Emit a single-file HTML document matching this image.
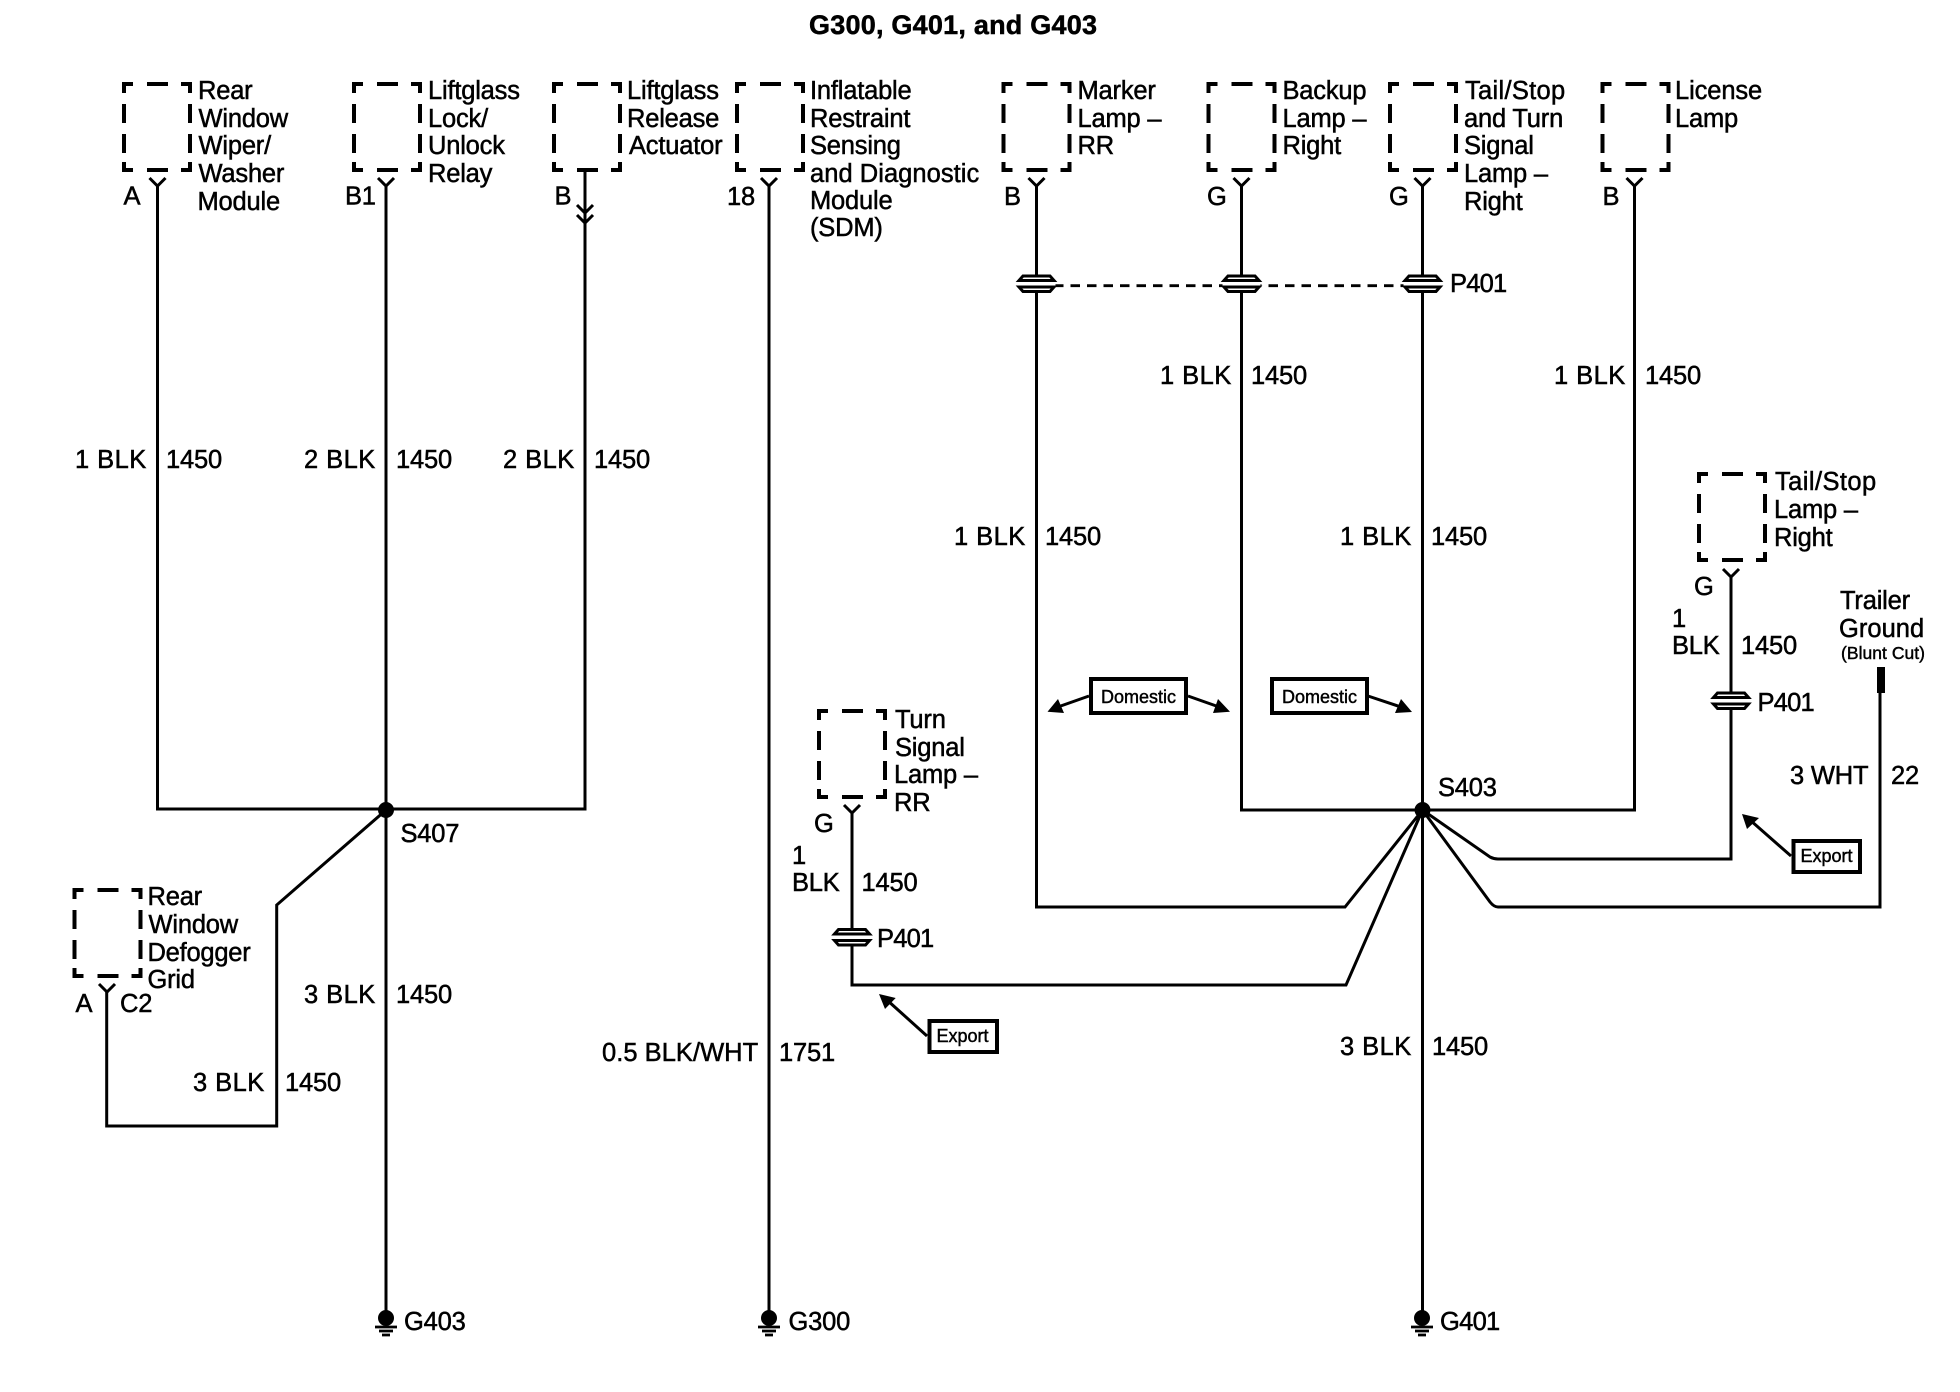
<!DOCTYPE html>
<html><head><meta charset="utf-8"><title>G300, G401, and G403</title>
<style>
html,body{margin:0;padding:0;background:#fff}
svg{display:block}
text{font-family:"Liberation Sans",sans-serif;font-size:25.5px;letter-spacing:-.2px;fill:#000;stroke:#000;stroke-width:.5px}
.e{text-anchor:end}
.s{font-size:18px;letter-spacing:0;stroke-width:.45px}
.w{fill:none;stroke:#000;stroke-width:3}
</style></head><body>
<svg width="1960" height="1392" viewBox="0 0 1960 1392" xmlns="http://www.w3.org/2000/svg">
<defs>
<g id="box" fill="none" stroke="#000" stroke-width="4">
<path d="M2 11V2H11M25 2H46M59 2H68V11M2 22V41M2 52V71M68 22V41M68 52V71M2 80V88H11M25 88H46M59 88H68V80"/>
</g>
<path id="y" d="M-8 0L0 8L8 0" fill="none" stroke="#000" stroke-width="3"/>
<g id="c" fill="#fff" stroke="#000" stroke-width="3">
<rect x="-19" y="-3.5" width="38" height="7" fill="#fff" stroke="none"/>
<path d="M-17.5 -3L-13.5 -7.5H13.5L17.5 -3Z"/>
<path d="M-17.5 3.5L-13.5 8H13.5L17.5 3.5Z"/>
</g>
<g id="g">
<circle cx="0" cy="0" r="8"/>
<path d="M-11 9H11M-7 13H7M-4 17H4" stroke="#000" stroke-width="2.8" fill="none"/>
</g>
</defs>

<text x="809" y="34" textLength="288" style="font-weight:bold;font-size:27px;letter-spacing:0">G300, G401, and G403</text>

<!-- boxes -->
<use href="#box" x="122" y="82"/><use href="#box" x="352" y="82"/><use href="#box" x="552" y="82"/><use href="#box" x="735" y="82"/>
<use href="#box" x="1001.5" y="82"/><use href="#box" x="1206.5" y="82"/><use href="#box" x="1388" y="82"/><use href="#box" x="1600.5" y="82"/>
<use href="#box" x="1697" y="472"/><use href="#box" x="817" y="709"/><use href="#box" x="72.5" y="888"/>

<!-- Y connectors -->
<use href="#y" x="157.5" y="178"/><use href="#y" x="386" y="178"/><use href="#y" x="769" y="178"/>
<use href="#y" x="1036.5" y="178"/><use href="#y" x="1241.5" y="178"/><use href="#y" x="1422.5" y="178"/><use href="#y" x="1634.5" y="178"/>
<use href="#y" x="1731" y="569"/><use href="#y" x="852" y="805"/><use href="#y" x="107" y="984"/>
<path class="w" d="M577 205L585 213L593 205M577 215L585 223L593 215"/>

<!-- wires -->
<path class="w" d="M157.5 186V809H585V172M386 186V1312M769 186V1312M386 810L276.7 905V1126H106.7V992"/>
<path class="w" d="M1036.5 186V907H1345L1422.5 810M1241.5 186V810H1634.5V186M1422.5 186V1312M852 813V985H1346L1422.5 810M1422.5 810L1490 857Q1494 859 1498 859H1731V577M1422.5 810L1490 902Q1494 907 1498 907H1880V690"/>
<rect x="1877" y="667" width="8" height="26"/>
<path d="M1054 285.7H1404" stroke="#000" stroke-width="2.8" stroke-dasharray="9.5 7" fill="none"/>

<circle cx="386" cy="810" r="8"/><circle cx="1422.5" cy="810" r="8"/>

<!-- inline connectors -->
<use href="#c" x="1036.5" y="283.5"/><use href="#c" x="1241.5" y="283.5"/><use href="#c" x="1422.5" y="283.5"/>
<use href="#c" x="1731" y="700.5"/><use href="#c" x="852" y="937"/>

<!-- grounds -->
<use href="#g" x="386" y="1318"/><use href="#g" x="769" y="1318"/><use href="#g" x="1422" y="1318"/>

<!-- domestic/export callouts -->
<rect x="1091" y="679" width="95" height="34" fill="#fff" stroke="#000" stroke-width="4"/>
<rect x="1272" y="679" width="95" height="34" fill="#fff" stroke="#000" stroke-width="4"/>
<path class="w" d="M1089 696L1055 708M1188 696L1222 708M1368 696L1404 708"/>
<path d="M1047.5 711.7L1058 699L1064 713ZM1230 711.7L1218 699L1213 713ZM1412 712L1401 699L1395 713Z"/>
<text class="s" x="1101" y="703" textLength="75">Domestic</text>
<text class="s" x="1282" y="703" textLength="75">Domestic</text>
<rect x="1793.5" y="841" width="66.5" height="31" fill="#fff" stroke="#000" stroke-width="4"/>
<rect x="929.5" y="1021" width="67.5" height="31" fill="#fff" stroke="#000" stroke-width="4"/>
<path class="w" d="M1791 856L1750 820M927 1036L887 1000"/>
<path d="M1742 814L1759 818L1747 829ZM879 994L895.7 998L885 1009Z"/>
<text class="s" x="1800.5" y="862" textLength="52">Export</text>
<text class="s" x="936.5" y="1042" textLength="52">Export</text>

<!-- top labels -->
<text x="198" y="99">Rear</text><text x="198.5" y="127">Window</text><text x="198.5" y="154">Wiper/</text><text x="198.5" y="182">Washer</text><text x="197.5" y="210">Module</text>
<text x="428" y="99">Liftglass</text><text x="428" y="127">Lock/</text><text x="428" y="154">Unlock</text><text x="428" y="182">Relay</text>
<text x="627" y="99">Liftglass</text><text x="627" y="127">Release</text><text x="629" y="154">Actuator</text>
<text x="810" y="99">Inflatable</text><text x="810" y="127">Restraint</text><text x="810" y="154">Sensing</text><text x="810" y="182" textLength="169">and Diagnostic</text><text x="810" y="209">Module</text><text x="810" y="236">(SDM)</text>
<text x="1077.5" y="99">Marker</text><text x="1077.5" y="127">Lamp –</text><text x="1077.5" y="154">RR</text>
<text x="1282.5" y="99">Backup</text><text x="1282.5" y="127">Lamp –</text><text x="1282.5" y="154">Right</text>
<text x="1465" y="99" textLength="100">Tail/Stop</text><text x="1464" y="127">and Turn</text><text x="1464" y="154">Signal</text><text x="1464" y="182">Lamp –</text><text x="1464" y="210">Right</text>
<text x="1675" y="99" textLength="87">License</text><text x="1675" y="127">Lamp</text>

<!-- connector letters -->
<text x="123.5" y="204.5">A</text><text x="345" y="204.5">B1</text><text x="554.5" y="204.5">B</text><text x="727" y="205">18</text>
<text x="1004" y="205">B</text><text x="1207" y="205">G</text><text x="1389" y="205">G</text><text x="1602.5" y="205">B</text>
<text x="75.5" y="1012">A</text><text x="120" y="1012">C2</text>
<text x="1694" y="595">G</text><text x="814" y="832">G</text>

<!-- wire labels -->
<g style="">
<text class="e" x="146" y="468" textLength="71">1 BLK</text><text x="166" y="468">1450</text>
<text class="e" x="375" y="468" textLength="71">2 BLK</text><text x="396" y="468">1450</text>
<text class="e" x="574" y="468" textLength="71">2 BLK</text><text x="594" y="468">1450</text>
<text class="e" x="1231" y="384" textLength="71">1 BLK</text><text x="1251" y="384">1450</text>
<text class="e" x="1625" y="384" textLength="71">1 BLK</text><text x="1645" y="384">1450</text>
<text class="e" x="1025" y="545" textLength="71">1 BLK</text><text x="1045" y="545">1450</text>
<text class="e" x="1411" y="545" textLength="71">1 BLK</text><text x="1431" y="545">1450</text>
<text class="e" x="375" y="1003" textLength="71">3 BLK</text><text x="396" y="1003">1450</text>
<text class="e" x="264" y="1091" textLength="71">3 BLK</text><text x="285" y="1091">1450</text>
<text class="e" x="758" y="1061" textLength="156">0.5 BLK/WHT</text><text x="779" y="1061">1751</text>
<text class="e" x="1411" y="1055" textLength="71">3 BLK</text><text x="1432" y="1055">1450</text>
</g>
<text x="792" y="864">1</text><text x="792" y="891">BLK</text><text x="861.5" y="891">1450</text>
<text x="1672" y="627">1</text><text x="1672" y="654">BLK</text><text x="1741" y="654">1450</text>
<text x="1790" y="784">3 WHT</text><text x="1891" y="784">22</text>

<!-- other labels -->
<text x="1450" y="292" textLength="57">P401</text><text x="1757.5" y="711" textLength="57">P401</text><text x="877" y="947" textLength="57">P401</text>
<text x="400.5" y="842">S407</text><text x="1438" y="796">S403</text>
<text x="404" y="1330">G403</text><text x="788.5" y="1330">G300</text><text x="1440" y="1330" textLength="60">G401</text>
<text x="1775" y="490" textLength="101">Tail/Stop</text><text x="1774" y="518">Lamp –</text><text x="1774" y="546">Right</text>
<text x="1840" y="609">Trailer</text><text x="1839" y="637" textLength="85">Ground</text><text class="s" x="1841" y="659" textLength="84" style="font-size:17.5px">(Blunt Cut)</text>
<text x="895" y="728">Turn</text><text x="895" y="756">Signal</text><text x="894" y="783">Lamp –</text><text x="894" y="811">RR</text>
<text x="147.5" y="905">Rear</text><text x="148.5" y="933">Window</text><text x="147.5" y="961" textLength="103">Defogger</text><text x="147.5" y="988">Grid</text>
</svg>
</body></html>
